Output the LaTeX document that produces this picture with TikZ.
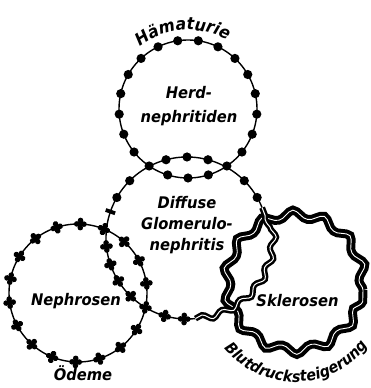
\documentclass[tikz,border=0pt]{standalone}
\usepackage{fontspec}
\usetikzlibrary{calc,decorations.pathmorphing,decorations.text}
\newfontfamily\lblfont{DejaVu Sans}[FakeStretch=0.92]
\newcommand{\lblstyle}{\lblfont\bfseries\itshape\fontsize{16}{21}\selectfont}
\newcommand{\arcstyle}{\lblfont\bfseries\itshape\fontsize{15.5}{21}\selectfont}

\begin{document}
\begin{tikzpicture}[x=1pt, y=1pt,
  ring/.style={line width=1.4pt},
  smallwave/.style={decorate, decoration={snake, segment length=21.4pt, amplitude=2.8pt}, line width=2.5pt, double=white, double distance=1pt},
  bigwave/.style={decorate, decoration={snake, segment length=30.52pt, amplitude=4pt}, line width=4pt, double=white, double distance=0.9pt},
  txt/.style={font=\lblstyle, align=center, inner sep=0pt},
  xmark/.pic={\fill (0,0) circle (2.6pt); \foreach \d in {0,90,180,270} \fill (\d:3.6pt) circle (2.8pt);}]

\useasboundingbox (0,0) rectangle (370,388);

\coordinate (herd) at (188,279);
\coordinate (diff) at (187,150);
\coordinate (neph) at (78,95);
\coordinate (skl) at (295,98);

\draw[ring] (herd) circle[radius=69pt];
\draw[ring] (neph) circle[radius=69pt];
\draw[ring] ($(diff)+(22:81pt)$) arc[start angle=22, end angle=276, radius=81pt];

\foreach \k in {0,...,20} \fill ($(herd)+({270+\k*360/21}:69pt)$) circle (4.6pt);
\foreach \a in {30,45,75,90,105,135,150} \fill ($(diff)+(\a:81pt)$) circle (4.6pt);

\draw[line width=3.8pt] ($(diff)+(161:76pt)$) -- ($(diff)+(161:86pt)$);
\foreach \k in {0,...,17} \pic[rotate=-12+\k*20] at ($(neph)+({-12+\k*20}:69pt)$) {xmark};
\foreach \a in {186,199,212,226,254,268} \pic[rotate=\a] at ($(diff)+(\a:81pt)$) {xmark};

\draw[bigwave] (skl) circle[radius=68pt];
\draw[smallwave] ($(diff)+(276:81pt)$) arc[start angle=276, end angle=382, radius=81pt];

\node[txt] (herdtxt) at (189,282) {Herd-\\[3pt]nephritiden};
\node[txt] (difftxt) at (187,163) {Diffuse\\Glomerulo-\\nephritis};
\node[txt, anchor=base] (nephtxt) at (76,82) {Nephrosen};
\node[txt, anchor=base] (skltxt) at (297.5,81) {Sklerosen};
\node[txt, anchor=base] (oedtxt) at (83,7) {Ödeme};

\path[decorate, decoration={text along path, text={|\lblstyle\fontsize{17}{21}\selectfont|Hämaturie}, text align=center}]
  ($(herd)+(136:79pt)$) arc[start angle=136, end angle=52, radius=79pt];
\path[decorate, decoration={text along path, text={|\arcstyle|Blutdrucksteigerung}, text align=center}]
  ($(skl)+(200:92pt)$) arc[start angle=200, end angle=342, radius=92pt];

\end{tikzpicture}
\end{document}
